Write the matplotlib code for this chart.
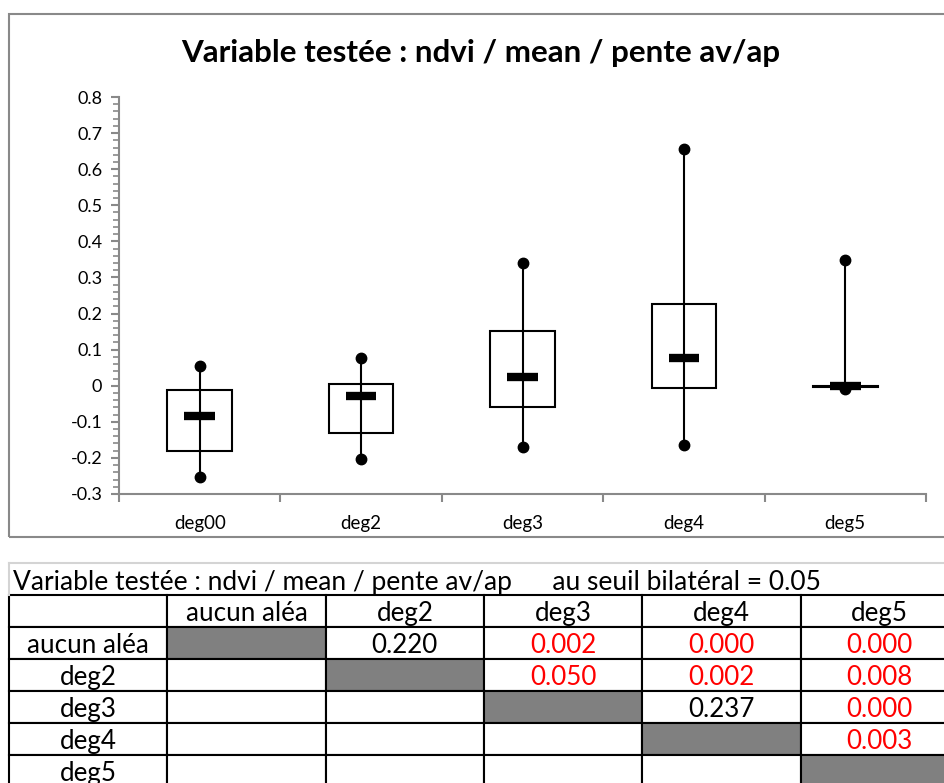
import matplotlib
matplotlib.use("Agg")
import matplotlib.pyplot as plt
from matplotlib.patches import Rectangle
from matplotlib.lines import Line2D
from matplotlib.ticker import MultipleLocator, AutoMinorLocator

plt.rcParams['font.family'] = ['Lato', 'DejaVu Sans']

# chart data
groups = ['deg00', 'deg2', 'deg3', 'deg4', 'deg5']
mins = [-0.252, -0.204, -0.171, -0.164, -0.008]
q1 = [-0.180, -0.132, -0.058, -0.006, -0.004]
medians = [-0.084, -0.029, 0.024, 0.077, -0.002]
q3 = [-0.012, 0.005, 0.152, 0.226, 0.000]
maxs = [0.055, 0.077, 0.341, 0.655, 0.348]

title = 'Variable testée : ndvi / mean / pente av/ap'

# table data
table_title = 'Variable testée : ndvi / mean / pente av/ap      au seuil bilatéral = 0.05'
alpha = 0.05
col_labels = ['', 'aucun aléa', 'deg2', 'deg3', 'deg4', 'deg5']
row_labels = ['aucun aléa', 'deg2', 'deg3', 'deg4', 'deg5']
pvals = [
    [None, None, '0.220', '0.002', '0.000', '0.000'],
    [None, None, None, '0.050', '0.002', '0.008'],
    [None, None, None, None, '0.237', '0.000'],
    [None, None, None, None, None, '0.003'],
    [None, None, None, None, None, None],
]

W, H = 944, 783
fig = plt.figure(figsize=(W / 100, H / 100), dpi=100)


def px(x0, y0, x1, y1):
    return [x0 / W, 1 - y1 / H, (x1 - x0) / W, (y1 - y0) / H]


# chart area frame
fig.patches.append(Rectangle((9 / W, 1 - 537 / H), 950 / W, 523 / H, transform=fig.transFigure,
                             fill=False, edgecolor='#898989', lw=1.5, zorder=0))
fig.text(481 / W, 1 - 53 / H, title, ha='center', va='center', fontsize=22.6, fontweight='bold')

ax = fig.add_axes(px(119, 97, 926, 494))
x = list(range(len(groups)))
box_w = 0.4
ax.vlines(x, mins, maxs, color='black', lw=1.5, zorder=2)
ax.bar(x, [b - a for a, b in zip(q1, q3)], bottom=q1, width=box_w, fill=False,
       edgecolor='black', lw=1.5, zorder=3)
ax.plot(x, mins, 'o', color='black', ms=7.5, zorder=4)
ax.plot(x, maxs, 'o', color='black', ms=7.5, zorder=4)
ax.hlines(medians, [i - 0.095 for i in x], [i + 0.095 for i in x], color='black', lw=6, zorder=5)

ax.set_xlim(-0.5, len(groups) - 0.5)
ax.set_ylim(-0.3, 0.8)
ax.yaxis.set_major_locator(MultipleLocator(0.1))
ax.yaxis.set_minor_locator(AutoMinorLocator(5))
ax.yaxis.set_major_formatter(lambda v, p: f'{v:.1f}'.rstrip('0').rstrip('.') if abs(v) > 1e-9 else '0')
ax.set_xticks([i - 0.5 for i in range(len(groups) + 1)])
ax.set_xticklabels([])
ax.set_xticks(x, minor=True)
ax.set_xticklabels(groups, minor=True)
ax.tick_params(axis='x', which='major', length=6, width=1.5, color='#898989', direction='out')
ax.tick_params(axis='x', which='minor', length=0, pad=15, labelsize=13.5)
ax.tick_params(axis='y', which='major', length=6, width=1.5, color='#898989', labelsize=13, pad=6)
ax.tick_params(axis='y', which='minor', length=4, width=1.2, color='#898989')
for s in ['top', 'right']:
    ax.spines[s].set_visible(False)
for s in ['left', 'bottom']:
    ax.spines[s].set_color('#898989')
    ax.spines[s].set_linewidth(1.5)

# table title row
fig.add_artist(Line2D([9 / W, 1], [1 - 563 / H] * 2, color='#d4d4d4', lw=1.5, transform=fig.transFigure))
fig.add_artist(Line2D([9 / W] * 2, [1 - 563 / H, 1 - 595 / H], color='#d4d4d4', lw=1.5, transform=fig.transFigure))
fig.text(13 / W, 1 - 580 / H, table_title, ha='left', va='center_baseline', fontsize=19)

# comparison table
cells = [col_labels]
colours = [['white'] * len(col_labels)]
for r, name in enumerate(row_labels):
    cells.append([name] + [v if v is not None else '' for v in pvals[r][1:]])
    colours.append(['white'] + ['#808080' if c - 1 == r else 'white' for c in range(1, len(col_labels))])

tax = fig.add_axes(px(9, 595, 959, 787))
tax.axis('off')
tbl = tax.table(cellText=cells, cellColours=colours, cellLoc='center', bbox=[0, 0, 1, 1])
tbl.auto_set_font_size(False)
tbl.set_fontsize(18.7)
for (r, c), cell in tbl.get_celld().items():
    cell.set_edgecolor('black')
    cell.set_linewidth(1.5)
    cell.get_text().set_va('center_baseline')
    if r >= 1 and c >= 1:
        v = pvals[r - 1][c]
        if v is not None and float(v) <= alpha:
            cell.get_text().set_color('red')

fig.savefig('out.png', dpi=100)
